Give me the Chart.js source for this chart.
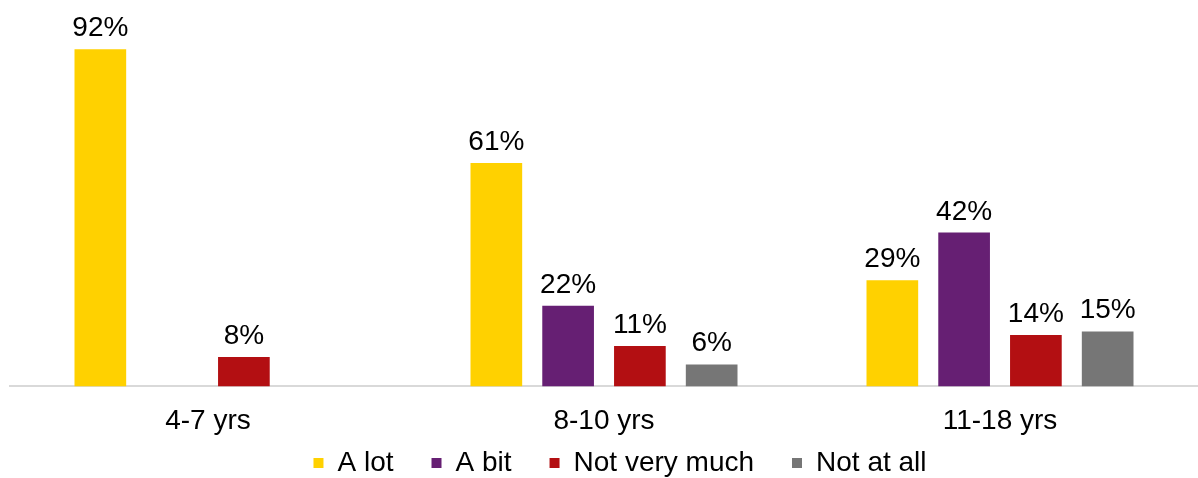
<!DOCTYPE html>
<html>
<head>
<meta charset="utf-8">
<script src="https://cdn.jsdelivr.net/npm/chart.js@4"></script>
<style>
  html, body { margin: 0; padding: 0; background: #fff; overflow: hidden; }
  #wrap { width: 1198px; height: 532px; }
</style>
</head>
<body>
<div id="wrap"><canvas id="barChart"></canvas></div>
<script>
// categories de l'axe x
const categories = ['4-7 yrs', '8-10 yrs', '11-18 yrs'];
// series
const seriesNames = ['A lot', 'A bit', 'Not very much', 'Not at all'];
const aLot = [92, 61, 29];
const aBit = [null, 22, 42];
const notVeryMuch = [8, 11, 14];
const notAtAll = [null, 6, 15];
const seriesColors = ['#FFD100', '#661F73', '#B30F12', '#767676'];

const FONT = 'Liberation Sans, Arial, sans-serif';

// plugin pour ecrire les valeurs au dessus des barres
const valueLabels = {
  id: 'valueLabels',
  afterLayout(chart) {
    // remonter la legende et la decaler un peu a droite
    const lg = chart.legend;
    if (lg) {
      lg.top -= 45;
      lg.bottom -= 45;
      lg.left += 16;
      lg.right += 16;
    }
  },
  afterDatasetsDraw(chart) {
    const ctx = chart.ctx;
    ctx.save();
    ctx.font = '28px ' + FONT;
    ctx.fillStyle = '#000';
    ctx.textAlign = 'center';
    ctx.textBaseline = 'alphabetic';
    chart.data.datasets.forEach((ds, i) => {
      const meta = chart.getDatasetMeta(i);
      meta.data.forEach((bar, j) => {
        const v = ds.data[j];
        if (v === null || v === undefined) return;
        ctx.fillText(v + '%', bar.x, bar.y - 13);
      });
    });
    ctx.restore();
  }
};

const allSeries = [aLot, aBit, notVeryMuch, notAtAll];

new Chart(document.getElementById('barChart').getContext('2d'), {
  type: 'bar',
  data: {
    labels: categories,
    datasets: allSeries.map((vals, i) => ({
      label: seriesNames[i],
      data: vals,
      backgroundColor: seriesColors[i],
      categoryPercentage: 0.725,
      barPercentage: 0.72
    }))
  },
  options: {
    responsive: true,
    maintainAspectRatio: false,
    animation: false,
    layout: { padding: { left: 10, right: 0, top: 20, bottom: 0 } },
    scales: {
      x: {
        grid: { display: false, drawTicks: false },
        border: { color: '#D9D9D9', width: 2 },
        ticks: { color: '#000', font: { family: FONT, size: 28 }, padding: 18 }
      },
      y: {
        display: false,
        min: 0,
        max: 100
      }
    },
    plugins: {
      legend: {
        position: 'bottom',
        labels: {
          color: '#000',
          font: { family: FONT, size: 28 },
          boxWidth: 10,
          boxHeight: 10,
          padding: 38
        }
      },
      tooltip: { enabled: false }
    }
  },
  plugins: [valueLabels]
});
</script>
</body>
</html>
